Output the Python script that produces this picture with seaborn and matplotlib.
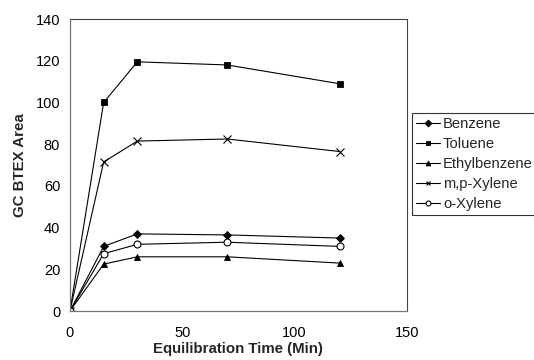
import matplotlib
matplotlib.use("Agg")
import matplotlib.pyplot as plt
import seaborn as sns
import pandas as pd

# Equilibration time points (min) and GC peak areas for each BTEX compound
times = [0, 15, 30, 70, 120]
benzene = [0, 31.0, 37.0, 36.5, 35.0]
toluene = [0, 100.0, 119.5, 118.0, 109.0]
ethylbenzene = [0, 22.5, 26.0, 26.0, 23.0]
mp_xylene = [0, 71.5, 81.5, 82.5, 76.5]
o_xylene = [0, 27.5, 32.0, 33.0, 31.0]

series = {
    "Benzene": benzene,
    "Toluene": toluene,
    "Ethylbenzene": ethylbenzene,
    "m,p-Xylene": mp_xylene,
    "o-Xylene": o_xylene,
}

rows = []
for name, vals in series.items():
    for t, v in zip(times, vals):
        rows.append({"time": t, "area": v, "compound": name})
df = pd.DataFrame(rows)

sns.set_theme(style="white")
plt.rcParams["font.family"] = ["Liberation Sans", "DejaVu Sans"]

fig = plt.figure(figsize=(5.34, 3.6), dpi=100)
ax = fig.add_axes([0.131, 0.136, 0.631, 0.811])

styles = {
    "Benzene": dict(marker="D", ms=4.2, mfc="black", mew=0.6),
    "Toluene": dict(marker="s", ms=4.8, mfc="black", mew=0.6),
    "Ethylbenzene": dict(marker="^", ms=5.0, mfc="black", mew=0.6),
    "m,p-Xylene": dict(marker="x", ms=5.5, mfc="black", mew=0.8),
    "o-Xylene": dict(marker="o", ms=5.0, mfc="white", mew=0.8),
}

for name in series:
    sub = df[df["compound"] == name]
    st = styles[name]
    sns.lineplot(data=sub, x="time", y="area", ax=ax, color="black", lw=0.8,
                 marker=st["marker"], markersize=st["ms"],
                 markerfacecolor=st["mfc"], markeredgecolor="black",
                 markeredgewidth=st["mew"], label=name)

ax.set_xlim(0, 150)
ax.set_ylim(0, 140)
ax.set_xticks([0, 50, 100, 150])
ax.set_yticks(range(0, 141, 20))
ax.set_xlabel("Equilibration Time (Min)", fontsize=10.8, fontweight="bold", labelpad=1)
ax.set_ylabel("GC BTEX Area", fontsize=10.8, fontweight="bold", labelpad=6)
ax.tick_params(axis="both", labelsize=10.5, colors="black")
ax.tick_params(axis="y", direction="out", length=3, width=0.8, color="#888888", pad=4)
ax.tick_params(axis="x", direction="inout", length=6, width=0.8, color="#888888", pad=8)
for side in ["left", "bottom"]:
    ax.spines[side].set_color("#777777")
    ax.spines[side].set_linewidth(0.9)
for side in ["top", "right"]:
    ax.spines[side].set_color("#444444")
    ax.spines[side].set_linewidth(0.8)

leg = ax.legend(loc="upper left", bbox_to_anchor=(0.7715, 0.686),
                bbox_transform=fig.transFigure, frameon=True, fancybox=False,
                fontsize=10.6, handlelength=1.6, handletextpad=0.2,
                borderpad=0.3, labelspacing=0.4, borderaxespad=0)
leg.get_frame().set_edgecolor("black")
leg.get_frame().set_linewidth(0.8)
for h in leg.legend_handles:
    h.set_markersize(3.5)

fig.savefig("out.png", dpi=100)
